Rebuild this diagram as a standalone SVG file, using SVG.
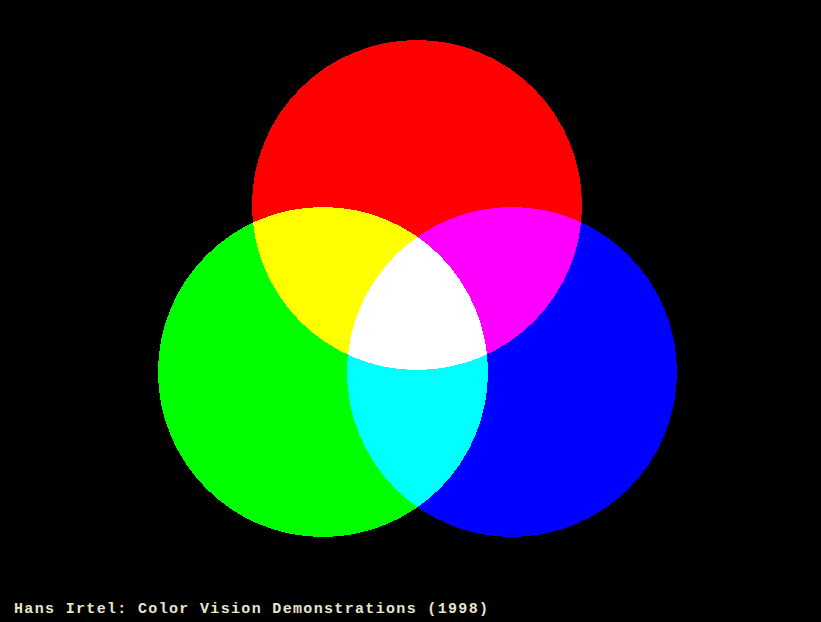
<svg xmlns="http://www.w3.org/2000/svg" width="821" height="622" viewBox="0 0 821 622">
  <style>
    .c { mix-blend-mode: lighten; }
    .caption { font-family: "Liberation Mono", "DejaVu Sans Mono", monospace; font-weight: bold; font-size: 15px; fill: #e6e6cc; }
  </style>
  <rect x="0" y="0" width="821" height="622" fill="#000"/>
  <g style="isolation:isolate" shape-rendering="crispEdges">
    <rect x="0" y="0" width="821" height="622" fill="#000"/>
    <g id="red"><circle class="c" cx="417" cy="205" r="165" fill="#ff0000"/></g>
    <g id="green"><circle class="c" cx="323" cy="372" r="165" fill="#00ff00"/></g>
    <g id="blue"><circle class="c" cx="512" cy="372" r="165" fill="#0000ff"/></g>
  </g>
  <text class="caption" x="14" y="613" textLength="474" lengthAdjust="spacing">Hans Irtel: Color Vision Demonstrations (1998)</text>
</svg>
